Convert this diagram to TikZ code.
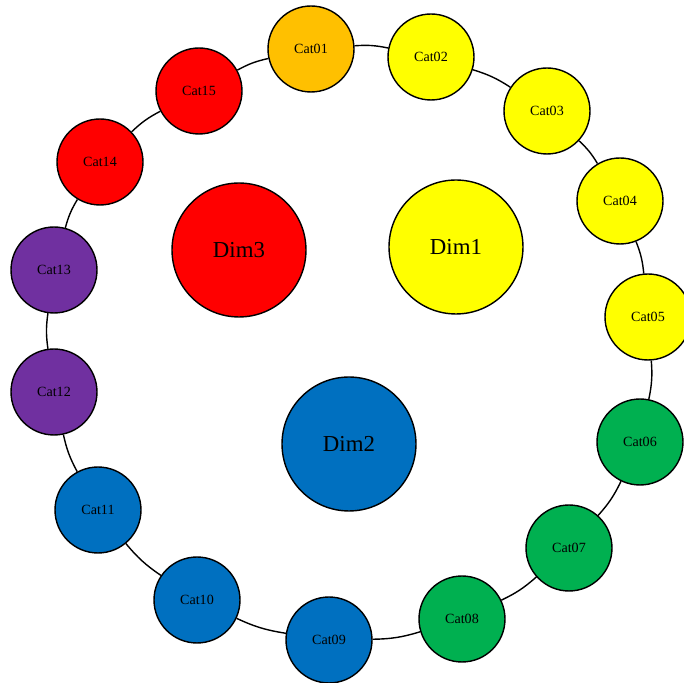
\documentclass[tikz,border=0pt]{standalone}
\usepackage{fontspec}
\setmainfont{Liberation Serif}
\definecolor{gold}{HTML}{FFC000}
\definecolor{sun}{HTML}{FFFF00}
\definecolor{leaf}{HTML}{00B050}
\definecolor{sea}{HTML}{0070C0}
\definecolor{plum}{HTML}{7030A0}
\definecolor{fire}{HTML}{FF0000}

\begin{document}
\begin{tikzpicture}[x=0.02cm, y=0.02cm, line width=0.8pt,
    cat/.style={circle, draw=black, inner sep=0pt, minimum size=17.2mm,
                font=\fontsize{8}{9.5}\selectfont},
    dim/.style={circle, draw=black, inner sep=0pt, minimum size=26.8mm,
                font=\fontsize{13}{15.5}\selectfont}]
    \useasboundingbox (0,0) rectangle (684,683);

    % ring of categories
    \node[cat, fill=gold] (c01) at (311,634) {Cat01};
    \node[cat, fill=sun]  (c02) at (431,626) {Cat02};
    \node[cat, fill=sun]  (c03) at (547,572) {Cat03};
    \node[cat, fill=sun]  (c04) at (620,482) {Cat04};
    \node[cat, fill=sun]  (c05) at (648,366) {Cat05};
    \node[cat, fill=leaf] (c06) at (640,241) {Cat06};
    \node[cat, fill=leaf] (c07) at (569,135) {Cat07};
    \node[cat, fill=leaf] (c08) at (462,64)  {Cat08};
    \node[cat, fill=sea]  (c09) at (329,43)  {Cat09};
    \node[cat, fill=sea]  (c10) at (197,83)  {Cat10};
    \node[cat, fill=sea]  (c11) at (98,173)  {Cat11};
    \node[cat, fill=plum] (c12) at (54,291)  {Cat12};
    \node[cat, fill=plum] (c13) at (54,413)  {Cat13};
    \node[cat, fill=fire] (c14) at (100,521) {Cat14};
    \node[cat, fill=fire] (c15) at (199,592) {Cat15};

    % dimensions
    \node[dim, fill=sun]  (d1) at (456,436) {Dim1};
    \node[dim, fill=sea]  (d2) at (349,239) {Dim2};
    \node[dim, fill=fire] (d3) at (239,433) {Dim3};

    \foreach \a/\b in {c01/c02, c02/c03, c03/c04, c04/c05, c05/c06, c06/c07, c07/c08,
                       c08/c09, c09/c10, c10/c11, c11/c12, c12/c13, c13/c14, c14/c15, c15/c01}
      \draw (\a) to[bend left=8] (\b);
  \end{tikzpicture}
\end{document}
